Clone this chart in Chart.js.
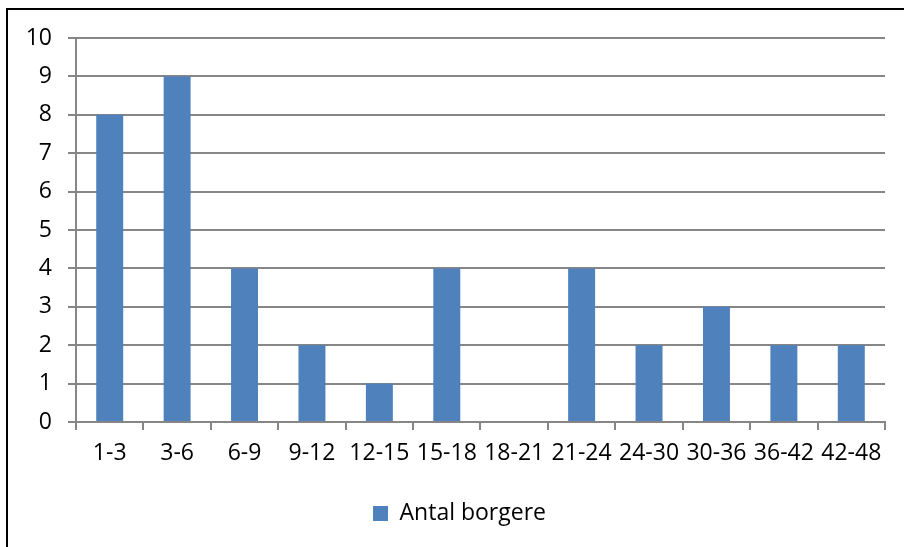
<!DOCTYPE html>
<html>
<head>
<meta charset="utf-8">
<script src="https://cdn.jsdelivr.net/npm/chart.js@4/dist/chart.umd.min.js"></script>
<style>
  html, body { margin: 0; padding: 0; background: #fff; }
  #wrap { position: relative; width: 904px; height: 547px; }
  #frame { position: absolute; left: 6px; top: 8px; width: 904px; height: 547px;
           border-left: 2px solid #000; border-top: 2px solid #000; box-sizing: border-box; pointer-events: none; }
  canvas { position: absolute; left: 0; top: 0; }
</style>
</head>
<body>
<div id="wrap">
  <canvas id="c" width="904" height="547"></canvas>
  <div id="frame"></div>
</div>
<script>
const categories = ["1-3","3-6","6-9","9-12","12-15","15-18","18-21","21-24","24-30","30-36","36-42","42-48"];
const seriesName = "Antal borgere";
const values = [8, 9, 4, 2, 1, 4, 0, 4, 2, 3, 2, 2];
const yTicks = [0,1,2,3,4,5,6,7,8,9,10];

const FONT = "'Open Sans', sans-serif";
const gridColor = "#868686";

// nudge the legend a little to the right, as in the reference (its frame extends past the picture)
const legendShift = {
  id: 'legendShift',
  afterLayout(chart) {
    const lg = chart.legend;
    if (lg) { lg.left += 6; lg.right += 6; }
  }
};

new Chart(document.getElementById('c'), {
  type: 'bar',
  data: {
    labels: categories,
    datasets: [{
      label: seriesName,
      data: values,
      backgroundColor: '#4F81BD',
      borderWidth: 0,
      categoryPercentage: 1.0,
      barPercentage: 0.4
    }]
  },
  plugins: [legendShift],
  options: {
    responsive: false,
    animation: false,
    devicePixelRatio: 1,
    layout: { padding: { top: 38, right: 19, bottom: 12, left: 22 } },
    plugins: {
      legend: {
        position: 'bottom',
        labels: {
          color: '#000',
          font: { family: FONT, size: 23 },
          boxWidth: 15,
          boxHeight: 15,
          padding: 10
        }
      },
      tooltip: { enabled: false }
    },
    scales: {
      x: {
        offset: true,
        grid: {
          offset: true,
          drawOnChartArea: false,
          drawTicks: true,
          tickLength: 8,
          color: gridColor,
          lineWidth: 2
        },
        border: { color: gridColor, width: 2 },
        ticks: {
          color: '#000',
          font: { family: FONT, size: 23 },
          padding: 10,
          maxRotation: 0,
          autoSkip: false
        },
        afterFit: (s) => { s.height = 70; }
      },
      y: {
        min: 0,
        max: 10,
        afterBuildTicks: (s) => { s.ticks = yTicks.map(v => ({ value: v })); },
        grid: {
          color: gridColor,
          lineWidth: 2,
          tickLength: 8,
          drawTicks: true
        },
        border: { color: gridColor, width: 2 },
        ticks: {
          color: '#000',
          font: { family: FONT, size: 23 },
          padding: 16
        },
        afterFit: (s) => { s.width = 54; }
      }
    }
  }
});
</script>
</body>
</html>
